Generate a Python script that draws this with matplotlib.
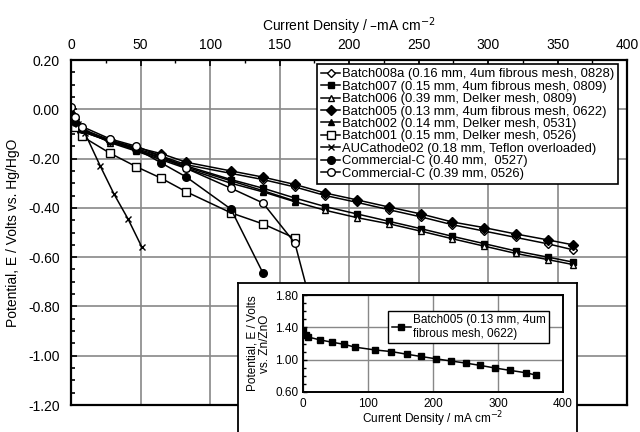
import matplotlib
matplotlib.use("Agg")
import matplotlib.pyplot as plt
from matplotlib.ticker import MultipleLocator, FixedLocator, FormatStrFormatter

plt.rcParams['font.family'] = ['Liberation Sans', 'DejaVu Sans']
plt.rcParams['axes.unicode_minus'] = False

# 전류 밀도 (mA/cm2) 측정 지점
x_batch = [0, 3, 8, 28, 47, 65, 83, 115, 138, 161, 183, 206, 229, 252, 274, 297, 320, 343, 361]
x_short = [0, 3, 8, 28, 47, 65, 83, 115, 138, 161]
x_au = [0, 5, 10, 21, 31, 41, 51]
x_c40 = [0, 3, 8, 28, 47, 65, 83, 115, 138]
x_c39 = [0, 3, 8, 28, 47, 65, 83, 115, 138, 161, 180]

# 전위 (V vs Hg/HgO)
batch008a = [0.01, -0.04, -0.08, -0.13, -0.16, -0.19, -0.225, -0.26, -0.285, -0.315,
             -0.35, -0.378, -0.408, -0.437, -0.468, -0.494, -0.52, -0.546, -0.57]
batch007 = [-0.03, -0.06, -0.09, -0.13, -0.165, -0.195, -0.23, -0.285, -0.32, -0.36,
            -0.395, -0.425, -0.455, -0.485, -0.515, -0.545, -0.575, -0.60, -0.62]
batch006 = [-0.02, -0.05, -0.08, -0.135, -0.17, -0.205, -0.24, -0.30, -0.335, -0.375,
            -0.41, -0.44, -0.465, -0.495, -0.525, -0.555, -0.585, -0.61, -0.63]
batch005 = [-0.02, -0.06, -0.09, -0.125, -0.155, -0.18, -0.215, -0.25, -0.275, -0.305,
            -0.34, -0.368, -0.397, -0.425, -0.457, -0.48, -0.506, -0.53, -0.55]
batch002 = [-0.04, -0.06, -0.09, -0.13, -0.165, -0.20, -0.235, -0.29, -0.33, -0.372]
batch001 = [-0.04, -0.07, -0.11, -0.178, -0.233, -0.28, -0.335, -0.42, -0.465, -0.523]
au_cathode = [-0.03, -0.06, -0.097, -0.23, -0.345, -0.445, -0.56]
comm_c40 = [-0.02, -0.05, -0.08, -0.125, -0.16, -0.218, -0.275, -0.405, -0.664]
comm_c39 = [0.01, -0.03, -0.07, -0.12, -0.15, -0.19, -0.24, -0.32, -0.38, -0.543, -0.95]

# 인셋: Batch005 (V vs Zn/ZnO)
x_inset = [0, 4, 8, 26, 44, 63, 80, 111, 136, 160, 181, 205, 228, 250, 272, 296, 319, 343, 358]
inset_v = [1.35, 1.31, 1.28, 1.245, 1.217, 1.19, 1.155, 1.12, 1.10, 1.067, 1.04, 1.01,
           0.983, 0.958, 0.93, 0.896, 0.867, 0.838, 0.81]
inset_yticks = [0.6, 1.0, 1.4, 1.8]

fig = plt.figure(figsize=(6.4, 4.32), dpi=100)
ax = fig.add_axes([0.111, 0.0625, 0.869, 0.7985])

series = [
    (x_batch, batch008a, 'D', 'white', 4.5, 'Batch008a (0.16 mm, 4um fibrous mesh, 0828)'),
    (x_batch, batch007, 's', 'black', 4.5, 'Batch007 (0.15 mm, 4um fibrous mesh, 0809)'),
    (x_batch, batch006, '^', 'white', 5, 'Batch006 (0.39 mm, Delker mesh, 0809)'),
    (x_batch, batch005, 'D', 'black', 5, 'Batch005 (0.13 mm, 4um fibrous mesh, 0622)'),
    (x_short, batch002, '^', 'black', 4, 'Batch002 (0.14 mm, Delker mesh, 0531)'),
    (x_short, batch001, 's', 'white', 5.5, 'Batch001 (0.15 mm, Delker mesh, 0526)'),
    (x_au, au_cathode, 'x', 'black', 5, 'AUCathode02 (0.18 mm, Teflon overloaded)'),
    (x_c40, comm_c40, 'o', 'black', 5.5, 'Commercial-C (0.40 mm,  0527)'),
    (x_c39, comm_c39, 'o', 'white', 5.5, 'Commercial-C (0.39 mm, 0526)'),
]
for xs, ys, mk, fc, ms, lab in series:
    ax.plot(xs, ys, color='black', lw=1.1, marker=mk, markerfacecolor=fc,
            markeredgecolor='black', markersize=ms, markeredgewidth=1.0, label=lab)

ax.set_xlim(0, 400)
ax.set_ylim(-1.2, 0.2)
ax.xaxis.set_major_locator(MultipleLocator(50))
ax.xaxis.set_minor_locator(MultipleLocator(25))
ax.yaxis.set_major_locator(MultipleLocator(0.2))
ax.yaxis.set_minor_locator(MultipleLocator(0.05))
ax.yaxis.set_major_formatter(FormatStrFormatter('%.2f'))
ax.xaxis.tick_top()
ax.xaxis.set_label_position('top')
ax.tick_params(axis='x', which='both', direction='in', top=True, bottom=False,
               labeltop=True, labelbottom=False, labelsize=10, pad=6)
ax.tick_params(axis='x', which='major', length=4, width=1.2)
ax.tick_params(axis='x', which='minor', length=2.5, width=1.0)
ax.tick_params(axis='y', which='major', direction='in', length=4, width=1.2, labelsize=10, pad=8)
ax.tick_params(axis='y', which='minor', direction='in', length=3, width=1.2)
ax.grid(True, which='major', color='#888888', lw=1.2)
for s in ax.spines.values():
    s.set_linewidth(1.6)
ax.set_xlabel('Current Density / \u2013mA cm$^{-2}$', fontsize=10, labelpad=5)
ax.set_ylabel('Potential, E / Volts vs. Hg/HgO', fontsize=10, labelpad=6)

leg = ax.legend(loc='upper right', bbox_to_anchor=(0.989, 0.995), fontsize=9.4,
                frameon=True, fancybox=False, edgecolor='black', framealpha=1,
                handlelength=1.5, handletextpad=0.15, labelspacing=0.02,
                borderpad=0.3, borderaxespad=0.2)
leg.get_frame().set_linewidth(1.2)

# 인셋 배경 박스
box = fig.add_axes([238 / 640, -0.05, (577 - 238) / 640, (432 - 283) / 432 + 0.05])
box.set_xticks([])
box.set_yticks([])
for s in box.spines.values():
    s.set_linewidth(1.3)
box.set_zorder(5)

ins = fig.add_axes([303 / 640, 1 - 392 / 432, (563 - 303) / 640, (392 - 295) / 432])
ins.set_zorder(6)
ins.plot(x_inset, inset_v, color='black', lw=1.1, marker='s', markersize=5,
         markerfacecolor='black', label='Batch005 (0.13 mm, 4um\nfibrous mesh, 0622)')
ins.set_xlim(0, 400)
ins.set_ylim(0.6, 1.8)
ins.xaxis.set_major_locator(MultipleLocator(100))
ins.yaxis.set_major_locator(FixedLocator(inset_yticks))
ins.yaxis.set_minor_locator(MultipleLocator(0.1))
ins.yaxis.set_major_formatter(FormatStrFormatter('%.2f'))
ins.tick_params(axis='both', which='major', direction='in', length=3, width=1.0, labelsize=8.5)
ins.tick_params(axis='y', which='minor', direction='in', length=2, width=1.0)
ins.tick_params(axis='x', which='major', length=0, pad=4)
ins.grid(True, which='major', color='#888888', lw=1.0)
for s in ins.spines.values():
    s.set_linewidth(1.4)
ins.set_xlabel('Current Density / mA cm$^{-2}$', fontsize=8.5, labelpad=0)
ins.set_ylabel('Potential, E / Volts\nvs. Zn/ZnO', fontsize=8.5, labelpad=3, linespacing=1.0)
ileg = ins.legend(loc='upper right', bbox_to_anchor=(0.97, 0.9), fontsize=8.5,
                  frameon=True, fancybox=False, edgecolor='black', framealpha=1,
                  handlelength=1.6, handletextpad=0.2, borderpad=0.3, labelspacing=0.1)
ileg.get_frame().set_linewidth(1.0)

fig.savefig('out.png', dpi=100)
